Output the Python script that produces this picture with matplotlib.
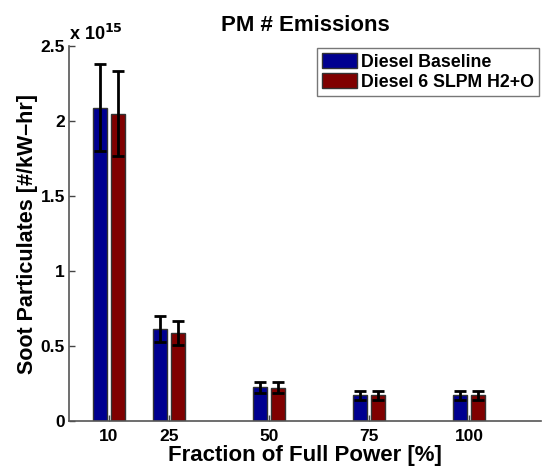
import matplotlib
matplotlib.use("Agg")
import matplotlib.pyplot as plt
import numpy as np

# Data (units of 1e15 #/kW-hr)
power = [10, 25, 50, 75, 100]
baseline = [2.09, 0.615, 0.225, 0.173, 0.173]
baseline_err = [0.29, 0.085, 0.035, 0.03, 0.03]
h2o = [2.05, 0.59, 0.222, 0.172, 0.172]
h2o_err = [0.285, 0.08, 0.035, 0.03, 0.03]
series_labels = ["Diesel Baseline", "Diesel 6 SLPM H2+O"]
yticks = [0, 0.5, 1, 1.5, 2, 2.5]
ytick_labels = ["0", "0.5", "1", "1.5", "2", "2.5"]

plt.rcParams['font.family'] = ['Liberation Sans', 'DejaVu Sans']

fig = plt.figure(figsize=(5.42, 4.67), dpi=100)
ax = fig.add_axes([69/542, (467-421)/467, (541-69)/542, (421-46)/467])

x = np.array(power, dtype=float)
w = 3.5
off = 2.2
ax.bar(x - off, baseline, width=w, color='#000090', edgecolor='#333333', linewidth=1, label=series_labels[0], zorder=2)
ax.bar(x + off, h2o, width=w, color='#800000', edgecolor='#333333', linewidth=1, label=series_labels[1], zorder=2)
ax.errorbar(x - off, baseline, yerr=baseline_err, fmt='none', ecolor='black', elinewidth=2, capsize=4.5, capthick=2, zorder=3)
ax.errorbar(x + off, h2o, yerr=h2o_err, fmt='none', ecolor='black', elinewidth=2, capsize=4.5, capthick=2, zorder=3)

ax.set_xlim(0, 118)
ax.set_ylim(0, 2.5)
ax.set_xticks(power)
ax.set_xticklabels([str(p) for p in power], fontsize=12.5, fontweight='bold')
ax.set_yticks(yticks)
ax.set_yticklabels(ytick_labels, fontsize=12.5, fontweight='bold')
ax.tick_params(direction='in', length=4, width=1, color='#444444')
ax.tick_params(axis='y', pad=3)
ax.tick_params(axis='x', pad=6)

for s in ['top', 'right']:
    ax.spines[s].set_visible(False)
for s in ['left', 'bottom']:
    ax.spines[s].set_color('#555555')
    ax.spines[s].set_linewidth(1.2)

ax.text(0.0, 1.005, r'x 10$^{\mathbf{15}}$', transform=ax.transAxes, fontsize=13,
        fontweight='bold', ha='left', va='bottom')

ax.set_title('PM # Emissions', fontsize=16, fontweight='bold', pad=11)
ax.set_xlabel('Fraction of Full Power [%]', fontsize=16, fontweight='bold', labelpad=0.5)
ax.set_ylabel('Soot Particulates [#/kW\u2013hr]', fontsize=15.5, fontweight='bold', labelpad=2)

leg = ax.legend(loc='upper right', bbox_to_anchor=(1.0, 1.0), prop={'weight': 'bold', 'size': 12.75},
                frameon=True, fancybox=False, edgecolor='#555555', borderpad=0.3,
                handlelength=1.95, handleheight=0.9, handletextpad=0.25, labelspacing=0.15,
                borderaxespad=0.1)
leg.get_frame().set_linewidth(1.0)

fig.savefig('out.png', dpi=100)
